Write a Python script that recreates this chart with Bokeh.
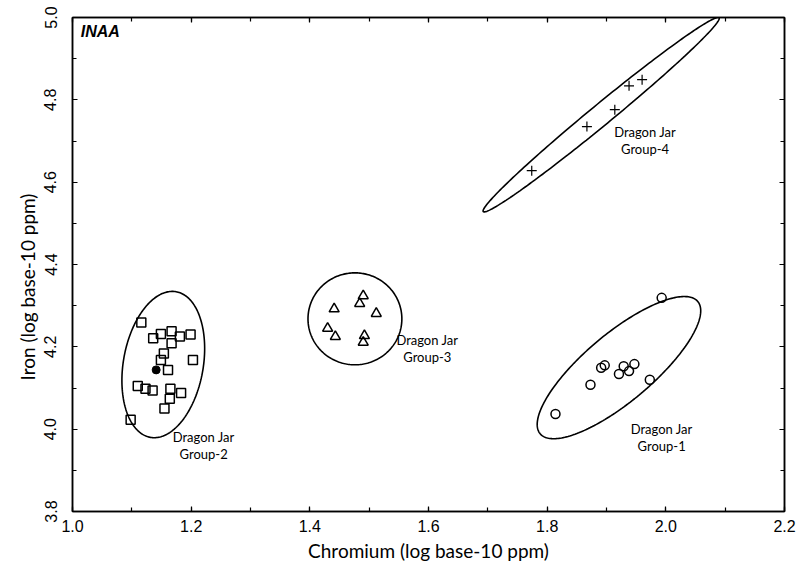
import numpy as np
from bokeh.plotting import figure
from bokeh.models import (LinearAxis, SingleIntervalTicker, Range1d, NumeralTickFormatter,
                          CustomLabelingPolicy, Title)
from bokeh.embed import file_html
from bokeh.resources import INLINE
from bokeh.core.properties import value

# ---- data (log base-10 ppm) ----
# Dragon Jar Group-1 (open circles)
g1_cr = [1.993, 1.891, 1.897, 1.929, 1.947, 1.921, 1.938, 1.973, 1.873, 1.814]
g1_fe = [4.319, 4.149, 4.155, 4.153, 4.158, 4.134, 4.141, 4.120, 4.108, 4.037]
# Dragon Jar Group-2 (open squares)
g2_cr = [1.116, 1.136, 1.149, 1.167, 1.181, 1.199, 1.167, 1.154, 1.149, 1.203,
         1.161, 1.110, 1.123, 1.135, 1.165, 1.183, 1.164, 1.155, 1.098]
g2_fe = [4.259, 4.221, 4.231, 4.238, 4.225, 4.230, 4.209, 4.184, 4.168, 4.168,
         4.144, 4.105, 4.098, 4.094, 4.098, 4.088, 4.074, 4.050, 4.023]
# solid point
solid_cr = [1.141]
solid_fe = [4.144]
# Dragon Jar Group-3 (open triangles)
g3_cr = [1.490, 1.484, 1.441, 1.512, 1.430, 1.443, 1.492, 1.490]
g3_fe = [4.324, 4.305, 4.292, 4.281, 4.245, 4.225, 4.227, 4.211]
# Dragon Jar Group-4 (crosses)
g4_cr = [1.774, 1.867, 1.914, 1.938, 1.960]
g4_fe = [4.628, 4.735, 4.776, 4.834, 4.849]

# confidence ellipses: centre, semi-major vector, semi-minor vector (data units)
ell_cx = [1.921, 1.153, 1.476, 1.891]
ell_cy = [4.1495, 4.157, 4.268, 4.764]
ell_ax = [0.1328, 0.0216, 0.0791, 0.1987]
ell_ay = [0.1607, 0.1769, 0.0, 0.2354]
ell_bx = [0.0368, 0.0663, 0.0, 0.01123]
ell_by = [-0.0632, -0.0168, 0.1117, -0.01971]

# group labels
lab_text = ["Dragon Jar\nGroup-1", "Dragon Jar\nGroup-2", "Dragon Jar\nGroup-3", "Dragon Jar\nGroup-4"]
lab_x = [1.993, 1.221, 1.598, 1.965]
lab_y = [4.020, 4.001, 4.236, 4.741]

x_title = "Chromium (log base-10 ppm)"
y_title = "Iron (log base-10 ppm)"

p = figure(width=802, height=566, output_backend="svg", toolbar_location=None,
           x_range=Range1d(1.0, 2.2), y_range=Range1d(3.8, 5.0),
           x_axis_label=x_title)
p.min_border_left = 72
p.min_border_right = 17
p.min_border_top = 17
p.min_border_bottom = 55
p.grid.visible = False
p.outline_line_color = "black"
p.outline_line_width = 1.5
p.background_fill_color = "white"
p.border_fill_color = "white"

no_labels = CustomLabelingPolicy(code="""
for (const i of indices) indices.unset(i)
return indices
""")

def style_axis(ax, show_labels=True):
    ax.ticker = SingleIntervalTicker(interval=0.2, num_minor_ticks=2)
    ax.formatter = NumeralTickFormatter(format="0.0")
    ax.axis_line_color = "black"
    ax.axis_line_width = 1.5
    ax.major_tick_in = 5
    ax.major_tick_out = 0
    ax.minor_tick_in = 4
    ax.minor_tick_out = 0
    ax.major_tick_line_color = "black"
    ax.minor_tick_line_color = "black"
    ax.major_tick_line_width = 1.2
    ax.minor_tick_line_width = 1.2
    if show_labels:
        ax.major_label_text_font = "Liberation Sans"
        ax.major_label_text_font_size = "16px"
        ax.major_label_text_color = "black"
        ax.axis_label_text_font = "Lato"
        ax.axis_label_text_font_size = "19px"
        ax.axis_label_text_font_style = "normal"
        ax.axis_label_text_color = "black"
    else:
        ax.major_label_policy = no_labels
        ax.major_label_standoff = 0

for ax in p.xaxis:
    style_axis(ax)
    ax.major_label_standoff = 8
    ax.axis_label_standoff = 4
for ax in p.yaxis:
    style_axis(ax)
    ax.major_label_orientation = "vertical"
    ax.major_label_standoff = 16

top = LinearAxis()
style_axis(top, show_labels=False)
p.add_layout(top, "above")
right = LinearAxis()
style_axis(right, show_labels=False)
p.add_layout(right, "right")

ytitle = Title(text=y_title, align="left", offset=131, standoff=6,
               text_font="Lato", text_font_size="19px", text_font_style="normal",
               text_color="black")
p.add_layout(ytitle, "left")

# ellipses
t = np.linspace(0, 2 * np.pi, 241)
exs, eys = [], []
for cx, cy, ax_, ay_, bx_, by_ in zip(ell_cx, ell_cy, ell_ax, ell_ay, ell_bx, ell_by):
    exs.append(list(cx + ax_ * np.cos(t) + bx_ * np.sin(t)))
    eys.append(list(cy + ay_ * np.cos(t) + by_ * np.sin(t)))
p.multi_line(exs, eys, line_color="black", line_width=1.6)

# points
p.scatter(g1_cr, g1_fe, marker="circle", size=9, fill_color=None, line_color="black", line_width=1.5)
p.scatter(g2_cr, g2_fe, marker="square", size=9, fill_color=None, line_color="black", line_width=1.5)
p.scatter(solid_cr, solid_fe, marker="circle", size=8, fill_color="black", line_color="black")
p.scatter(g3_cr, g3_fe, marker="triangle", size=10, fill_color=None, line_color="black", line_width=1.5)
p.scatter(g4_cr, g4_fe, marker="cross", size=10, line_color="black", line_width=1.2)

# labels
p.text(lab_x, lab_y, text=lab_text, text_font=value("Lato"), text_font_size="13px",
       text_align="center", text_baseline="top", text_color="black", text_line_height=1.05)
p.text([1.014], [4.967], text=["INAA"], text_font=value("Liberation Sans"), text_font_size="16px",
       text_font_style="bold italic", text_align="left", text_baseline="middle", text_color="black")

open("out.html", "w").write(file_html(p, INLINE))
